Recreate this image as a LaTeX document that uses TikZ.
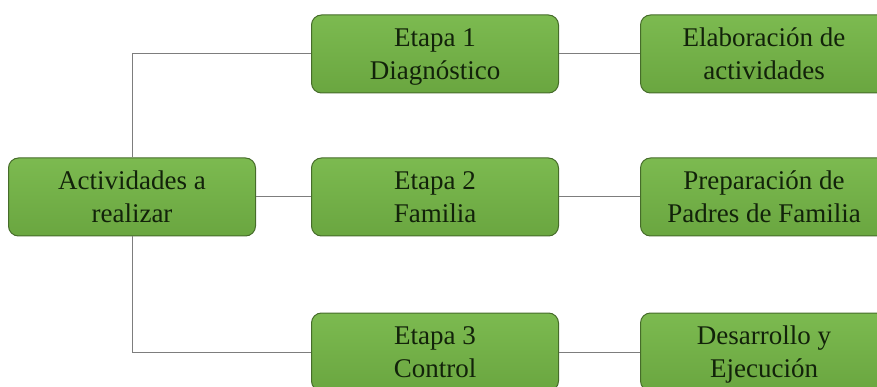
\documentclass[tikz,border=0pt]{standalone}
\usepackage{fontspec}
\setmainfont{Liberation Serif}
\definecolor{boxgreen}{RGB}{116,176,74}
\definecolor{boxgreentop}{RGB}{124,186,80}
\definecolor{boxgreenbot}{RGB}{106,166,64}
\definecolor{darkgreen}{RGB}{70,108,42}
\definecolor{txtgreen}{RGB}{18,34,10}
\definecolor{linegray}{RGB}{125,125,125}
\newcommand\boxtxt[2]{%
  #1\\#2%
}

\begin{document}
\begin{tikzpicture}[x=1pt,y=-1pt]
  \useasboundingbox (0,0) rectangle (877,387);

  \tikzstyle{stage}=[draw=darkgreen,line width=1pt,rounded corners=10pt,
    top color=boxgreentop,bottom color=boxgreenbot,
    minimum width=247pt,minimum height=78pt,inner sep=0pt,text depth=0pt,
    align=center,text=txtgreen,font=\fontsize{27}{33}\selectfont]
  \tikzstyle{link}=[draw=linegray,line width=1pt]

  \node[stage] (root) at (132,197) {\boxtxt{Actividades a}{realizar}};

  \foreach \name/\y/\one/\two in {E-1/54/Etapa 1/Diagnóstico, E-2/197/Etapa 2/Familia, E-3/352/Etapa 3/Control}
    \node[stage] (\name) at (435,\y) {\boxtxt{\one}{\two}};

  \node[stage] (R-1) at (764,54) {\boxtxt{Elaboración de}{actividades}};
  \node[stage] (R-2) at (764,197) {\boxtxt{Preparación de}{Padres de Familia}};
  \node[stage] (R-3) at (764,352) {\boxtxt{Desarrollo y}{Ejecución}};

  \path[link] (root.north) |- (E-1.west);
  \path[link] (root.east) -- (E-2.west);
  \path[link] (root.south) |- (E-3.west);

  \foreach \i in {1,2,3}
    \path[link] (E-\i.east) -- (R-\i.west);

\end{tikzpicture}
\end{document}
